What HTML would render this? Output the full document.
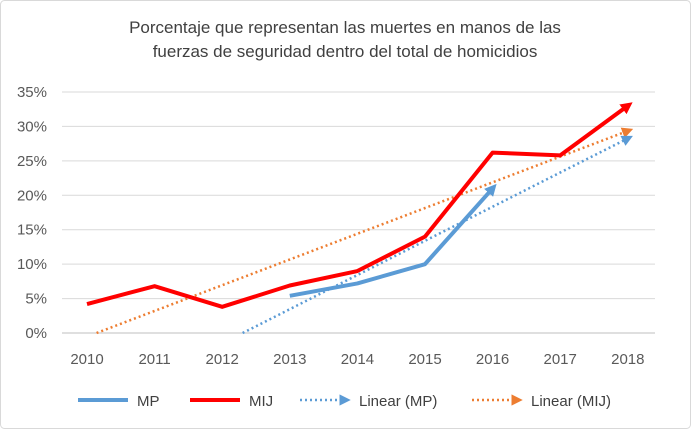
<!DOCTYPE html>
<html><head><meta charset="utf-8"><style>
html,body{margin:0;padding:0;background:#fff;}
svg{display:block;font-family:"Liberation Sans",Arial,sans-serif;}
</style></head><body>
<svg id="chart" width="691" height="429">
<defs>
<marker id="arMP" markerWidth="3" markerHeight="3" refX="1.5" refY="1.5" orient="auto" markerUnits="strokeWidth"><path d="M0,0 L3,1.5 L0,3 Z" fill="#5B9BD5"/></marker>
<marker id="arMIJ" markerWidth="3" markerHeight="3" refX="1.5" refY="1.5" orient="auto" markerUnits="strokeWidth"><path d="M0,0 L3,1.5 L0,3 Z" fill="#FF0000"/></marker>
<marker id="arTMP" markerWidth="4.5" markerHeight="4.5" refX="2.2" refY="2.25" orient="auto" markerUnits="strokeWidth"><path d="M0,0 L4.5,2.25 L0,4.5 Z" fill="#5B9BD5"/></marker>
<marker id="arTMIJ" markerWidth="4.5" markerHeight="4.5" refX="2.2" refY="2.25" orient="auto" markerUnits="strokeWidth"><path d="M0,0 L4.5,2.25 L0,4.5 Z" fill="#ED7D31"/></marker>
</defs>
<rect x="0.5" y="0.5" width="690" height="428" rx="4" fill="#fff" stroke="#d9d9d9"/>
<text x="345" y="33" text-anchor="middle" font-size="17" fill="#404040">Porcentaje que representan las muertes en manos de las</text>
<text x="345" y="57" text-anchor="middle" font-size="17" fill="#404040">fuerzas de seguridad dentro del total de homicidios</text>
<g id="grid"></g><g id="axes"></g><g id="series"></g>
<g font-size="15" fill="#404040">
<line x1="78" y1="400" x2="128" y2="400" stroke="#5B9BD5" stroke-width="4"/>
<text x="137" y="406">MP</text>
<line x1="190" y1="400" x2="240" y2="400" stroke="#FF0000" stroke-width="4"/>
<text x="249" y="406">MIJ</text>
<line x1="300" y1="400" x2="345" y2="400" stroke="#5B9BD5" stroke-width="2.5" stroke-dasharray="2,3" marker-end="url(#arTMP)"/>
<text x="359" y="406">Linear (MP)</text>
<line x1="472" y1="400" x2="517" y2="400" stroke="#ED7D31" stroke-width="2.5" stroke-dasharray="2,3" marker-end="url(#arTMIJ)"/>
<text x="531" y="406">Linear (MIJ)</text>
</g>
</svg>
<script>
const years=[2010,2011,2012,2013,2014,2015,2016,2017,2018];
const mijValues=[4.2,6.8,3.8,6.9,9.0,14.0,26.2,25.8,33.0];
const mpValues=[null,null,null,5.4,7.2,10.0,21.0,null,null];
const yTicks=[0,5,10,15,20,25,30,35];
const NS="http://www.w3.org/2000/svg";
const x0=87,xStep=67.6,yBase=333,yPer=(333-92)/35;
const X=i=>x0+i*xStep, Y=v=>yBase-v*yPer;
function mk(tag,attrs,parent){const e=document.createElementNS(NS,tag);for(const k in attrs)e.setAttribute(k,attrs[k]);document.getElementById(parent).appendChild(e);return e;}
yTicks.forEach(t=>{
 const l=mk('line',{x1:62,x2:655,y1:Y(t),y2:Y(t),stroke:t===0?'#bfbfbf':'#d9d9d9','stroke-width':1},'grid');
 
 
 const tx=mk('text',{x:47,y:Y(t)+5,'text-anchor':'end','font-size':15,fill:'#595959'},'axes');tx.textContent=t+'%';
 
 
});
years.forEach((yr,i)=>{
 const tx=mk('text',{x:X(i),y:364,'text-anchor':'middle','font-size':15,fill:'#595959'},'axes');tx.textContent=yr;
 
 
});
function fit(vals){const pts=vals.map((v,i)=>[i,v]).filter(p=>p[1]!==null);const n=pts.length;const mx=pts.reduce((s,p)=>s+p[0],0)/n,my=pts.reduce((s,p)=>s+p[1],0)/n;let sxy=0,sxx=0;pts.forEach(p=>{sxy+=(p[0]-mx)*(p[1]-my);sxx+=(p[0]-mx)**2;});const b=sxy/sxx;return {a:my-b*mx,b:b};}
function trend(vals,color,marker,name){const f=fit(vals);let ye=f.a+f.b*8;let x1=0,y1=f.a;if(y1<0){x1=-f.a/f.b;y1=0;}
 const l=mk('line',{x1:X(x1),y1:Y(y1),x2:X(8),y2:Y(ye),stroke:color,'stroke-width':2.5,'stroke-dasharray':'2,3','marker-end':'url(#'+marker+')'},'series');
 
 }
function series(vals,color,marker,name){const pts=vals.map((v,i)=>v===null?null:X(i)+','+Y(v)).filter(Boolean).join(' ');
 const p=mk('polyline',{points:pts,fill:'none',stroke:color,'stroke-width':4,'stroke-linejoin':'round','marker-end':'url(#'+marker+')'},'series');
 
 }
trend(mijValues,'#ED7D31','arTMIJ','trend-mij');
trend(mpValues,'#5B9BD5','arTMP','trend-mp');
series(mpValues,'#5B9BD5','arMP','line-mp');
series(mijValues,'#FF0000','arMIJ','line-mij');
</script>
</body></html>
